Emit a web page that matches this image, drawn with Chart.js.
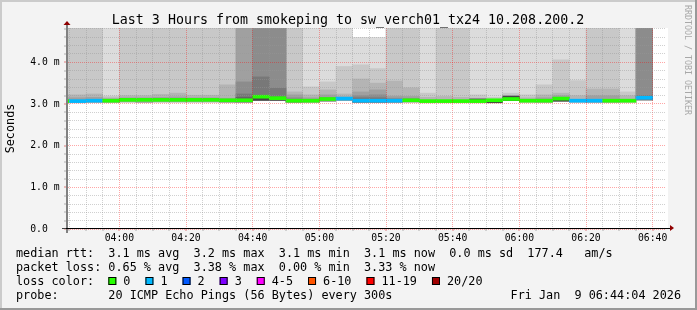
<!DOCTYPE html>
<html>
<head>
<meta charset="utf-8">
<script src="https://cdn.jsdelivr.net/npm/chart.js@4/dist/chart.umd.min.js"></script>
<style>
  html, body { margin: 0; padding: 0; background: #f3f3f3; }
  canvas { display: block; }
</style>
</head>
<body>
<canvas id="smokeChart" width="697" height="310"></canvas>
<script>
// Smokeping detail graph for sw_verch01_tx24, last 3 hours, 5 minute steps

const steps = ['03:40', '03:45', '03:50', '03:55', '04:00', '04:05', '04:10', '04:15', '04:20',
    '04:25', '04:30', '04:35', '04:40', '04:45', '04:50', '04:55', '05:00', '05:05', '05:10',
    '05:15', '05:20', '05:25', '05:30', '05:35', '05:40', '05:45', '05:50', '05:55', '06:00',
    '06:05', '06:10', '06:15', '06:20', '06:25', '06:30', '06:35'];

// sorted ping times (ms) that bound the smoke bands, 5 = above the graph
const ping20 = [5, 5, 5, 5, 5, 5, 5, 5, 5, 5, 5, 5, 5, 5, 5, 5, 5, 5, 4.60, 4.60,
    5, 5, 5, 5, 5, 5, 5, 5, 5, 5, 5, 5, 5, 5, 5, 5];
const ping19 = [5, 5, 5, 3.19, 5, 5, 5, 5, 5, 5, 5, 5, 5, 5, 5, 3.41, 3.53, 3.90, 3.94, 3.85,
    5, 5, 3.26, 5, 5, 3.22, 3.16, 3.26, 3.22, 3.46, 4.06, 3.56, 5, 5, 3.29, 5];
const ping18 = [3.22, 3.22, 3.24, 3.15, 3.20, 3.20, 3.23, 3.26, 3.21, 3.21, 3.46, 5, 5, 5, 3.29, 3.22,
    3.34, 3.24, 3.60, 3.50, 3.55, 3.39, 3.16, 3.18, 3.16, 3.14, null, 3.20, 3.15, 3.22, 3.26, 3.20,
    3.36, 3.36, 3.20, 5];
const ping17 = [3.15, 3.15, 3.16, 3.12, 3.15, 3.15, 3.16, 3.17, 3.15, 3.15, 3.14, 5, 5, 5, 3.22, 3.15,
    3.22, 3.17, 3.29, 3.34, 3.19, 3.18, null, null, null, null, null, null, null, 3.15, 3.20, null,
    3.20, 3.20, null, 5];
const ping16 = [null, null, null, null, null, null, null, null, null, null, null, 3.53, 5, 5, 3.15, null,
    3.16, null, 3.20, 3.22, 3.14, 3.13, null, null, null, null, null, null, null, null, 3.16, null,
    null, null, null, 5];
const ping15 = [null, null, null, null, null, null, null, null, null, null, null, 3.24, 3.65, 3.38, null, null,
    null, null, 3.15, 3.15, null, null, null, null, null, null, null, null, null, null, null, null,
    null, null, null, 3.20];
const ping14 = [null, null, null, null, null, null, null, null, null, null, null, 3.16, null, null, null, null,
    null, null, null, null, null, null, null, null, null, null, null, null, null, null, null, null,
    null, null, null, null];
const ping1 = [3.03, 3.03, 3.04, 3.04, 3.05, 3.04, 3.05, 3.05, 3.05, 3.05, 3.04, 3.05, 3.09, 3.09, 3.04, 3.04,
    3.07, 3.08, 3.04, 3.04, 3.04, 3.05, 3.03, 3.03, 3.03, 3.03, 3.03, 3.08, 3.04, 3.04, 3.07, 3.04,
    3.04, 3.04, 3.04, 3.10];
// darkest band close to the median
const innerLow = [null, null, null, null, null, null, null, null, null, null, null, null, 3.09, 3.09, null, null,
    null, null, null, null, null, null, null, null, null, 3.05, 3.03, 3.08, null, null, 3.07, null,
    null, null, null, null];
const innerHigh = [null, null, null, null, null, null, null, null, null, null, null, null, 3.18, 3.14, null, null,
    null, null, null, null, null, null, null, null, null, 3.12, 3.09, 3.19, null, null, 3.12, null,
    null, null, null, null];

const median = [3.07, 3.07, 3.08, 3.08, 3.10, 3.10, 3.10, 3.10, 3.10, 3.10, 3.09, 3.09, 3.175, 3.14, 3.08, 3.08,
    3.12, 3.13, 3.08, 3.08, 3.08, 3.09, 3.07, 3.07, 3.07, 3.07, 3.09, 3.12, 3.08, 3.08, 3.13, 3.08,
    3.08, 3.08, 3.08, 3.15];
const lossCount = [0, 1, 1, 0, 0, 0, 0, 0, 0, 0, 0, 0, 0, 0, 0, 0, 0, 1, 1, 1, 1, 0, 0, 0, 0, 0, 0, 0, 0, 0, 0,
    1, 1, 0, 0, 1];

const lossLabels = ['0', '1', '2', '3', '4-5', '6-10', '11-19', '20/20'];
const lossUpper = [0, 1, 2, 3, 5, 10, 19, 20];
const lossColors = ['#26ff00', '#00b8ff', '#0059ff', '#7e00ff', '#ff00ff', '#ff5500', '#ff0000', '#a00000'];

const xTickLabels = ['04:00', '04:20', '04:40', '05:00', '05:20', '05:40', '06:00', '06:20', '06:40'];
const yTickLabels = ['0.0  ', '1.0 m', '2.0 m', '3.0 m', '4.0 m'];

const title = 'Last 3 Hours from smokeping to sw_verch01_tx24 10.208.200.2';
const legendRows = [
    'median rtt:  3.1 ms avg  3.2 ms max  3.1 ms min  3.1 ms now  0.0 ms sd  177.4   am/s',
    'packet loss: 0.65 % avg  3.38 % max  0.00 % min  3.33 % now',
    'loss color:',
    'probe:       20 ICMP Echo Pings (56 Bytes) every 300s'
];
const stamp = 'Fri Jan  9 06:44:04 2026';

const FONT = '"DejaVu Sans Mono", monospace';
const shades = ['#dcdcdc', '#c8c8c8', '#b4b4b4', '#a0a0a0', '#8c8c8c', '#787878', '#646464'];
const bandTops = [ping20, ping19, ping18, ping17, ping16, ping15, ping14];

function toMin(s) {
    const p = s.split(':');
    return +p[0] * 60 + +p[1];
}
const mid = steps.map(s => toMin(s) + 2.5);
const xMajor = xTickLabels.map(toMin);

function lossColor(n) {
    for (let i = 0; i < lossUpper.length; i++) {
        if (n <= lossUpper[i]) return lossColors[i];
    }
    return lossColors[lossColors.length - 1];
}

function floatBars(lo, hi) {
    const out = [];
    mid.forEach((x, i) => {
        const a = lo[i];
        if (a == null || hi[i] == null) return;
        out.push({ x: x, y: [a, hi[i]] });
    });
    return out;
}

const barBase = { grouped: false, categoryPercentage: 1, barPercentage: 1, borderWidth: 0 };
const datasets = [];
bandTops.forEach((tops, i) => {
    datasets.push(Object.assign({
        label: 'smoke ' + (i + 1),
        data: floatBars(ping1, tops),
        backgroundColor: shades[i],
        order: 20 - i
    }, barBase));
});
datasets.push(Object.assign({
    label: 'inner',
    data: floatBars(innerLow, innerHigh),
    backgroundColor: '#464646',
    order: 5
}, barBase));
datasets.push(Object.assign({
    label: 'median',
    data: mid.map((x, i) => ({ x: x, y: [median[i] - 0.036, median[i] + 0.036] })),
    backgroundColor: lossCount.map(lossColor),
    order: 1
}, barBase));

const frame = {
    id: 'frame',
    beforeDraw(chart) {
        const { ctx, chartArea: a } = chart;
        const W = chart.width, H = chart.height;
        ctx.save();
        ctx.fillStyle = '#f3f3f3';
        ctx.fillRect(0, 0, W, H);
        ctx.fillStyle = '#cbcbcb';
        ctx.fillRect(0, 0, W, 2);
        ctx.fillRect(0, 0, 2, H);
        ctx.fillStyle = '#999999';
        ctx.fillRect(0, H - 2, W, 2);
        ctx.fillRect(W - 2, 0, 2, H);
        ctx.fillStyle = '#ffffff';
        ctx.fillRect(a.left, a.top, a.right - a.left + 2, a.bottom - a.top);
        ctx.restore();
    },
    afterDraw(chart) {
        const { ctx, chartArea: a } = chart;
        const x = chart.scales.x, y = chart.scales.y;
        ctx.save();

        // axes
        ctx.fillStyle = '#808080';
        ctx.fillRect(a.left, a.top - 3, 2, a.bottom - a.top + 7);
        ctx.fillStyle = '#000000';
        ctx.fillRect(a.left - 4, a.bottom - 1, a.right - a.left + 8, 1);
        // tick marks
        y.ticks.forEach(t => {
            const py = Math.round(y.getPixelForValue(t.value)) - 0.5;
            const major = Math.abs(t.value - Math.round(t.value)) < 1e-6;
            ctx.fillStyle = major ? '#e08080' : '#b0b0b0';
            ctx.fillRect(a.left - 2, py, 2, 1);
        });
        ctx.fillStyle = '#404040';
        ctx.fillRect(a.left - 4, a.bottom - 1, 4, 1);
        x.ticks.forEach(t => {
            const px = Math.round(x.getPixelForValue(t.value)) - 0.5;
            const major = xMajor.includes(t.value);
            ctx.fillStyle = major ? '#e08080' : '#b0b0b0';
            ctx.fillRect(px, a.bottom, 1, 2);
        });
        // arrows
        ctx.fillStyle = '#900000';
        ctx.beginPath();
        ctx.moveTo(a.left - 2.5, a.top - 3);
        ctx.lineTo(a.left + 4.5, a.top - 3);
        ctx.lineTo(a.left + 1, a.top - 7);
        ctx.closePath();
        ctx.fill();
        ctx.beginPath();
        ctx.moveTo(a.right + 4, a.bottom - 4);
        ctx.lineTo(a.right + 4, a.bottom + 2);
        ctx.lineTo(a.right + 8, a.bottom - 1);
        ctx.closePath();
        ctx.fill();

        // title
        ctx.fillStyle = '#000000';
        ctx.font = '13.3px ' + FONT;
        ctx.textAlign = 'center';
        ctx.textBaseline = 'alphabetic';
        ctx.fillText(title, 348, 24);

        // y axis title
        ctx.font = '11.8px ' + FONT;
        ctx.save();
        ctx.translate(14, (a.top + a.bottom) / 2);
        ctx.rotate(-Math.PI / 2);
        ctx.textBaseline = 'alphabetic';
        ctx.fillText('Seconds', 0, 0);
        ctx.restore();

        // vertical watermark
        ctx.save();
        ctx.translate(685, 5);
        ctx.rotate(Math.PI / 2);
        ctx.font = '8.3px ' + FONT;
        ctx.fillStyle = '#a8a8a8';
        ctx.textAlign = 'left';
        ctx.fillText('RRDTOOL / TOBI OETIKER', 0, 0);
        ctx.restore();

        // legend
        ctx.font = '11.8px ' + FONT;
        ctx.textAlign = 'left';
        ctx.fillStyle = '#000000';
        const rowY = [257, 271, 285, 299];
        legendRows.forEach((r, i) => ctx.fillText(r, 16, rowY[i]));
        let bx = 16 + ctx.measureText('loss color:  ').width;
        lossLabels.forEach((lab, i) => {
            ctx.fillStyle = lossColors[i];
            ctx.fillRect(bx, 277, 8, 8);
            ctx.strokeStyle = '#000000';
            ctx.lineWidth = 1;
            ctx.strokeRect(bx + 0.5, 277.5, 7, 7);
            ctx.fillStyle = '#000000';
            ctx.fillText(lab, bx + 15, rowY[2]);
            bx += 15 + ctx.measureText(lab).width + 15;
        });
        ctx.textAlign = 'right';
        ctx.fillText(stamp, 681, rowY[3]);
        ctx.restore();
    }
};

new Chart(document.getElementById('smokeChart'), {
    type: 'bar',
    data: { datasets: datasets },
    options: {
        responsive: false,
        animation: false,
        layout: { padding: { top: 28, right: 31, bottom: 0, left: 0 } },
        plugins: { legend: { display: false }, tooltip: { enabled: false } },
        scales: {
            x: {
                type: 'linear',
                offset: false,
                min: toMin('03:44'),
                max: toMin('06:44'),
                afterFit: s => { s.height = 81; },
                afterBuildTicks: s => {
                    const t = [];
                    for (let v = Math.ceil(s.min / 5) * 5; v <= s.max; v += 5) t.push({ value: v });
                    s.ticks = t;
                },
                grid: {
                    z: 1,
                    offset: false,
                    drawTicks: false,
                    lineWidth: 1,
                    color: c => xMajor.includes(c.tick && c.tick.value)
                        ? 'rgba(255, 0, 0, 0.35)' : 'rgba(150, 150, 150, 0.45)'
                },
                border: { display: false, dash: [1, 1] },
                ticks: {
                    autoSkip: false,
                    maxRotation: 0,
                    padding: 4,
                    color: '#000000',
                    font: { family: FONT, size: 9.75 },
                    callback: v => {
                        const i = xMajor.indexOf(v);
                        return i >= 0 ? xTickLabels[i] : '';
                    }
                }
            },
            y: {
                min: 0,
                max: 4.824,
                afterFit: s => { s.width = 66; },
                afterBuildTicks: s => {
                    const t = [];
                    for (let i = 0; i * 0.2 <= s.max; i++) t.push({ value: Math.round(i * 2) / 10 });
                    s.ticks = t;
                },
                grid: {
                    z: 1,
                    drawTicks: false,
                    lineWidth: 1,
                    color: c => {
                        const v = c.tick ? c.tick.value : 0.5;
                        return Math.abs(v - Math.round(v)) < 1e-6
                            ? 'rgba(255, 0, 0, 0.35)' : 'rgba(150, 150, 150, 0.45)';
                    }
                },
                border: { display: false, dash: [1, 1] },
                ticks: {
                    autoSkip: false,
                    padding: 6.5,
                    color: '#000000',
                    font: { family: FONT, size: 9.75 },
                    callback: v => {
                        const r = Math.round(v);
                        return Math.abs(v - r) < 1e-6 && yTickLabels[r] ? yTickLabels[r] : '';
                    }
                }
            }
        }
    },
    plugins: [frame]
});
</script>
</body>
</html>
